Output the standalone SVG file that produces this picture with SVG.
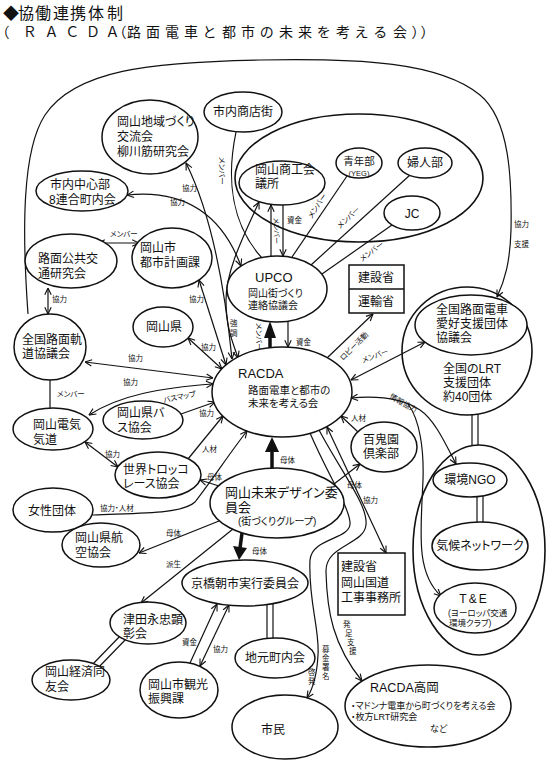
<svg xmlns="http://www.w3.org/2000/svg" width="550" height="763" viewBox="0 0 550 763">
<defs>
<style>
text{font-family:"Liberation Sans","Noto Sans CJK JP",sans-serif;fill:#111;font-feature-settings:"palt"}
.n{font-size:12px}
.l{font-size:7.5px}
.m{text-anchor:middle}
.e{fill:#fff;stroke:#111;stroke-width:1.5}
.g{fill:none;stroke:#111;stroke-width:1.6}
.c path,.c line{fill:none;stroke:#111;stroke-width:1.2}
.c .thick{stroke-width:3.5}
.c polygon{fill:#111;stroke:none}
</style>
<marker id="ah" viewBox="0 0 10 10" refX="9.5" refY="5" markerWidth="8" markerHeight="8" orient="auto-start-reverse" markerUnits="userSpaceOnUse"><path d="M1,1 L9.5,5 L1,9" fill="none" stroke="#111" stroke-width="1.4"/></marker>
</defs>
<rect width="550" height="763" fill="#fff"/>

<g id="title">
<text x="3 18 35 53 70 88 107" y="18.6" style="font-size:16px">◆協働連携体制</text>
<text x="2 24 46 67 87 107 119 127 146 165 184 203 222 241 260 279 298 317 336 355 374 393 412 421" y="36.5" style="font-size:14px">（ＲＡＣＤＡ（路面電車と都市の未来を考える会））</text>
</g>

<g id="group-shoko"><ellipse class="g" cx="359" cy="178" rx="124" ry="64"/></g>
<g id="group-lrt"><ellipse class="g" cx="467" cy="351" rx="65" ry="64"/>
<text class="n"><tspan x="443" y="373">全国のLRT</tspan><tspan x="443" y="387">支援団体</tspan><tspan x="443" y="401">約40団体</tspan></text></g>
<g id="group-ngo"><ellipse class="g" cx="479" cy="550" rx="66" ry="105"/></g>

<g id="connectors" class="c">
<path d="M28,314 C22,230 22,150 45,115 C75,70 150,62 260,60 C360,58 440,62 480,95 C510,120 512,180 511,230 C510,262 505,280 497,297" marker-end="url(#ah)"/>
<text class="l" x="514" y="227">協力</text><text class="l" x="514" y="247">支援</text>
<path d="M186,163 C212,215 225,290 232,359" marker-start="url(#ah)" marker-end="url(#ah)"/>
<text class="l" x="182" y="191">協力</text>
<path d="M127,195 C175,190 218,205 241,266" marker-start="url(#ah)" marker-end="url(#ah)"/>
<text class="l" x="170" y="205">協力</text>
<path d="M236,132 C226,180 232,225 262,258"/>
<text class="l" transform="translate(219,157) rotate(90)">メンバー</text>
<path d="M259,202 C244,235 226,270 226,300 C226,330 234,345 238,358" marker-start="url(#ah)" marker-end="url(#ah)"/>
<text class="l" x="230" y="326">強</text><text class="l" x="230" y="336">調</text>
<path d="M199,280 L226,365" marker-start="url(#ah)" marker-end="url(#ah)"/>
<text class="l" x="189" y="302">協力</text>
<line x1="271" y1="257" x2="271" y2="205" marker-end="url(#ah)"/>
<line x1="283" y1="205" x2="283" y2="256" marker-end="url(#ah)"/>
<text class="l" x="287" y="223">資金</text>
<text class="l" style="font-size:7px" transform="translate(274,218) rotate(90)">メンバー</text>
<line x1="347" y1="176" x2="292" y2="257"/>
<text class="l" transform="translate(312,219) rotate(-57)">メンバー</text>
<line x1="410" y1="175" x2="311" y2="265"/>
<text class="l" transform="translate(340,229) rotate(-43)">メンバー</text>
<line x1="392" y1="225" x2="322" y2="274"/>
<text class="l" transform="translate(362,262) rotate(-37)">メンバー</text>
<line class="thick" x1="270" y1="348" x2="270" y2="336"/>
<polygon points="264,338 276,338 270,321"/>
<text class="l" transform="translate(256,323) rotate(90)">メンバー</text>
<line x1="288" y1="321" x2="288" y2="347" marker-end="url(#ah)"/>
<text class="l" x="296" y="345">資金</text>
<line x1="327" y1="358" x2="373" y2="314" marker-end="url(#ah)"/>
<text class="l" transform="translate(343,361) rotate(-45)">ロビー活動</text>
<line x1="351" y1="380" x2="425" y2="342" marker-start="url(#ah)" marker-end="url(#ah)"/>
<text class="l" transform="translate(363,363) rotate(-20)">メンバー</text>
<line x1="85" y1="362" x2="213" y2="378" marker-start="url(#ah)" marker-end="url(#ah)"/>
<text class="l" x="128" y="361">協力</text>
<line x1="188" y1="338" x2="222" y2="369" marker-start="url(#ah)" marker-end="url(#ah)"/>
<text class="l" x="201" y="350">協力</text>
<path d="M89,415 C120,395 160,388 213,384" marker-start="url(#ah)" marker-end="url(#ah)"/>
<text class="l" x="123" y="385">協力</text>
<line x1="181" y1="414" x2="215" y2="402" marker-end="url(#ah)"/>
<text class="l" transform="translate(164,403) rotate(-12)">バスマップ</text>
<text class="l" x="199" y="416">協力</text>
<line x1="85" y1="442" x2="118" y2="467" marker-start="url(#ah)" marker-end="url(#ah)"/>
<text class="l" x="105" y="457">協力</text>
<line x1="188" y1="459" x2="223" y2="416" marker-end="url(#ah)"/>
<text class="l" x="202" y="452">人材</text>
<path d="M93,515 C140,513 182,514 195,502 C212,480 232,450 247,431" marker-end="url(#ah)"/>
<text class="l" x="100" y="511">協力・人材</text>
<line x1="219" y1="486" x2="200" y2="480" marker-end="url(#ah)"/>
<text class="l" x="207" y="480">母体</text>
<line class="thick" x1="272" y1="468" x2="272" y2="451"/>
<polygon points="265,452 279,452 272,437"/>
<text class="l" x="280" y="463">母体</text>
<line x1="334" y1="484" x2="360" y2="464" marker-end="url(#ah)"/>
<text class="l" x="347" y="488">母体</text>
<line x1="358" y1="432" x2="341" y2="416" marker-end="url(#ah)"/>
<text class="l" x="351" y="421">人材</text>
<line x1="327" y1="427" x2="386" y2="553" marker-start="url(#ah)" marker-end="url(#ah)"/>
<text class="l" x="363" y="503">協力</text>
<path d="M310,433 C328,475 348,505 350,522 C352,540 312,537 310,560 C308,600 320,630 318,655 C317,675 312,690 307,698" marker-end="url(#ah)"/>
<path d="M319,430 C343,475 368,505 366,525 C364,545 325,545 326,572 C327,612 333,645 362,681" marker-end="url(#ah)"/>
<text class="l" x="322" y="652">募</text><text class="l" x="322" y="661">金</text><text class="l" x="322" y="670">署</text><text class="l" x="322" y="679">名</text>
<text class="l" x="308" y="675">啓</text><text class="l" x="308" y="684">発</text>
<text class="l" x="343" y="627">発</text><text class="l" x="345" y="636">足</text><text class="l" x="347" y="645">支</text><text class="l" x="349" y="654">援</text>
<path d="M351,398 C385,395 405,400 420,410 C435,420 446,445 456,464" marker-start="url(#ah)" marker-end="url(#ah)"/>
<text class="l" transform="translate(389,398) rotate(30)">情報協力</text>
<path d="M408,404 C420,420 424,450 423,480 C421,530 415,572 441,596" marker-end="url(#ah)"/>
<line x1="472" y1="414.8" x2="472" y2="445.6"/>
<line x1="478" y1="414.1" x2="478" y2="445"/>
<line x1="477" y1="492" x2="477" y2="526"/>
<line x1="483" y1="492" x2="483" y2="526"/>
<line class="thick" x1="242" y1="533" x2="240" y2="548"/>
<polygon points="233,546 247,548 239,560"/>
<text class="l" x="252" y="554">母体</text>
<line x1="219" y1="521" x2="139" y2="553" marker-end="url(#ah)"/>
<text class="l" x="166" y="536">母体</text>
<line x1="233" y1="529" x2="141" y2="603" marker-end="url(#ah)"/>
<text class="l" x="166" y="567">派生</text>
<line x1="267" y1="600" x2="267" y2="642"/>
<line x1="273" y1="600" x2="273" y2="642"/>
<line x1="190" y1="663" x2="217" y2="604" marker-end="url(#ah)"/>
<text class="l" x="182" y="645">資金</text>
<line x1="200" y1="666" x2="229" y2="605" marker-start="url(#ah)" marker-end="url(#ah)"/>
<text class="l" x="213" y="652">協力</text>
<line x1="123" y1="633" x2="91" y2="666"/>
<line x1="128" y1="637" x2="96" y2="670"/>
<line x1="98" y1="243" x2="139" y2="243" marker-start="url(#ah)" marker-end="url(#ah)"/>
<text class="l" x="110" y="237">メンバー</text>
<line x1="48" y1="288" x2="48" y2="314" marker-start="url(#ah)" marker-end="url(#ah)"/>
<text class="l" x="52" y="302">協力</text>
<line x1="50" y1="378" x2="50" y2="410"/>
<text class="l" x="57" y="397">メンバー</text>
</g>

<g id="n-chiiki"><ellipse class="e" cx="150" cy="137" rx="48" ry="37"/><text class="n"><tspan x="117" y="126">岡山地域づくり</tspan><tspan x="117" y="141">交流会</tspan><tspan x="117" y="156">柳川筋研究会</tspan></text></g>
<g id="n-shoutengai"><ellipse class="e" cx="243" cy="112" rx="39" ry="20"/><text class="n m" x="243" y="116">市内商店街</text></g>
<g id="n-shoko"><ellipse class="e" cx="282" cy="183" rx="43" ry="22"/><text class="n"><tspan x="255" y="174">岡山商工会</tspan><tspan x="255" y="188">議所</tspan></text></g>
<g id="n-seinen"><ellipse class="e" cx="359" cy="163" rx="23" ry="15"/><text class="m" style="font-size:10.5px"><tspan x="359" y="164.5">青年部</tspan><tspan x="359" y="175.5" style="font-size:7.5px">(YEG)</tspan></text></g>
<g id="n-fujin"><ellipse class="e" cx="425" cy="163" rx="27" ry="15"/><text class="n m" x="425" y="167">婦人部</text></g>
<g id="n-jc"><ellipse class="e" cx="412" cy="213" rx="28" ry="17"/><text class="n m" x="412" y="218">JC</text></g>
<g id="n-chushin"><ellipse class="e" cx="82" cy="191" rx="46" ry="20"/><text class="n"><tspan x="50" y="189">市内中心部</tspan><tspan x="49" y="204">8連合町内会</tspan></text></g>
<g id="n-romen"><ellipse class="e" cx="71" cy="261" rx="46" ry="27"/><text class="n"><tspan x="38" y="263">路面公共交</tspan><tspan x="38" y="278">通研究会</tspan></text></g>
<g id="n-toshi"><ellipse class="e" cx="172" cy="258" rx="40" ry="30"/><text class="n"><tspan x="140" y="252">岡山市</tspan><tspan x="140" y="267">都市計画課</tspan></text></g>
<g id="n-okayamaken"><ellipse class="e" cx="163" cy="327" rx="30" ry="20"/><text class="n m" x="164" y="331">岡山県</text></g>
<g id="n-zenkoku-kido"><ellipse class="e" cx="50" cy="347" rx="36" ry="33"/><text class="n"><tspan x="22" y="344">全国路面軌</tspan><tspan x="22" y="358">道協議会</tspan></text></g>
<g id="n-upco"><ellipse class="e" cx="277" cy="289" rx="50" ry="33"/><text style="font-size:10px"><tspan x="255" y="282" style="font-size:13px">UPCO</tspan><tspan x="248" y="297">岡山街づくり</tspan><tspan x="248" y="309">連絡協議会</tspan></text></g>
<g id="n-kensetsu-unyu"><rect x="349" y="265" width="55" height="48" fill="#fff" stroke="#111" stroke-width="1.5"/><line x1="349" y1="289" x2="404" y2="289" stroke="#111" stroke-width="1.5"/><text class="n m"><tspan x="376" y="282">建設省</tspan><tspan x="376" y="306">運輸省</tspan></text></g>
<g id="n-aikou"><ellipse class="e" cx="471" cy="325" rx="56" ry="30"/><text class="n"><tspan x="436" y="314">全国路面電車</tspan><tspan x="436" y="328">愛好支援団体</tspan><tspan x="436" y="342">協議会</tspan></text></g>
<g id="n-racda"><ellipse class="e" cx="282" cy="392" rx="70" ry="45"/><text style="font-size:10.5px"><tspan x="238" y="378" style="font-size:13px">RACDA</tspan><tspan x="248" y="394">路面電車と都市の</tspan><tspan x="248" y="407">未来を考える会</tspan></text></g>
<g id="n-kankyo"><ellipse class="e" cx="470" cy="480" rx="37" ry="17"/><text class="n m" x="470" y="484">環境NGO</text></g>
<g id="n-kikou"><ellipse class="e" cx="480" cy="546" rx="48" ry="24"/><text class="n m" x="480" y="550">気候ネットワーク</text></g>
<g id="n-te"><ellipse class="e" cx="475" cy="608" rx="41" ry="25"/><text style="font-size:8.5px"><tspan x="474" y="603" class="n m" style="letter-spacing:2px">T&amp;E</tspan><tspan x="448" y="616">(ヨーロッパ交通</tspan><tspan x="449" y="626">環境クラブ)</tspan></text></g>
<g id="n-hyakki"><ellipse class="e" cx="384" cy="447" rx="33" ry="25"/><text class="n"><tspan x="363" y="444">百鬼園</tspan><tspan x="363" y="458">倶楽部</tspan></text></g>
<g id="n-kokudo"><rect x="338" y="553" width="67" height="62" fill="#fff" stroke="#111" stroke-width="1.5"/><text class="n"><tspan x="341" y="571">建設省</tspan><tspan x="341" y="587">岡山国道</tspan><tspan x="341" y="602">工事事務所</tspan></text></g>
<g id="n-design"><ellipse class="e" cx="277" cy="503" rx="67" ry="35"/><text style="font-size:13px"><tspan x="225" y="497">岡山未来デザイン委</tspan><tspan x="225" y="512">員会</tspan><tspan x="238" y="525" style="font-size:10px">(街づくりグループ)</tspan></text></g>
<g id="n-kyobashi"><ellipse class="e" cx="245" cy="583" rx="63" ry="23"/><text class="n m" x="245" y="588">京橋朝市実行委員会</text></g>
<g id="n-jimoto"><ellipse class="e" cx="275" cy="658" rx="40" ry="20"/><text class="n m" x="275" y="662">地元町内会</text></g>
<g id="n-shimin"><ellipse class="e" cx="285" cy="727" rx="53" ry="32"/><text class="n m" x="273" y="734">市民</text></g>
<g id="n-takaoka"><ellipse class="e" cx="428" cy="706" rx="83" ry="41"/><text style="font-size:9px"><tspan x="370" y="692" style="font-size:12.5px">RACDA高岡</tspan><tspan x="351" y="709">・マドンナ電車から町づくりを考える会</tspan><tspan x="351" y="720">・枚方LRT研究会</tspan><tspan x="430" y="732">など</tspan></text></g>
<g id="n-tsuda"><ellipse class="e" cx="148" cy="623" rx="38" ry="21"/><text class="n"><tspan x="123" y="624">津田永忠顕</tspan><tspan x="123" y="638">彰会</tspan></text></g>
<g id="n-doyukai"><ellipse class="e" cx="71" cy="680" rx="39" ry="20"/><text class="n"><tspan x="45" y="676">岡山経済同</tspan><tspan x="45" y="691">友会</tspan></text></g>
<g id="n-kanko"><ellipse class="e" cx="179" cy="690" rx="39" ry="28"/><text class="n"><tspan x="148" y="689">岡山市観光</tspan><tspan x="148" y="703">振興課</tspan></text></g>
<g id="n-koku"><ellipse class="e" cx="101" cy="545" rx="39" ry="22"/><text class="n"><tspan x="75" y="542">岡山県航</tspan><tspan x="75" y="557">空協会</tspan></text></g>
<g id="n-josei"><ellipse class="e" cx="53" cy="510" rx="40" ry="22"/><text class="n m" x="52" y="515">女性団体</text></g>
<g id="n-torokko"><ellipse class="e" cx="158" cy="475" rx="43" ry="23"/><text class="n"><tspan x="123" y="474">世界トロッコ</tspan><tspan x="123" y="488">レース協会</tspan></text></g>
<g id="n-bus"><ellipse class="e" cx="143" cy="420" rx="40" ry="19"/><text class="n"><tspan x="117" y="417">岡山県バ</tspan><tspan x="117" y="432">ス協会</tspan></text></g>
<g id="n-denki"><ellipse class="e" cx="53" cy="429" rx="40" ry="21"/><text class="n"><tspan x="33" y="429">岡山電気</tspan><tspan x="33" y="444">気道</tspan></text></g>
</svg>
